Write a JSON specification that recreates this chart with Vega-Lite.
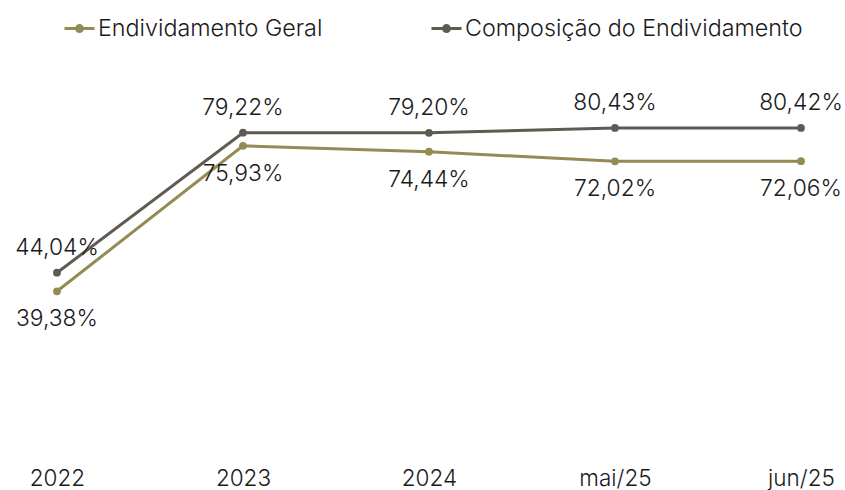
{
  "$schema": "https://vega.github.io/schema/vega-lite/v6.json",
  "width": 845,
  "height": 398,
  "autosize": {"type": "none"},
  "padding": {"left": 0, "top": 50, "right": 0, "bottom": 42},
  "background": "white",
  "config": {
    "view": {"stroke": null},
    "font": "Inter",
    "text": {"font": "Inter"}
  },
  "data": {
    "values": [
      {"periodo": "2022", "serie": "Endividamento Geral", "valor": 39.38, "label": "39,38%"},
      {"periodo": "2023", "serie": "Endividamento Geral", "valor": 75.93, "label": "75,93%"},
      {"periodo": "2024", "serie": "Endividamento Geral", "valor": 74.44, "label": "74,44%"},
      {"periodo": "mai/25", "serie": "Endividamento Geral", "valor": 72.02, "label": "72,02%"},
      {"periodo": "jun/25", "serie": "Endividamento Geral", "valor": 72.06, "label": "72,06%"},
      {"periodo": "2022", "serie": "Composição do Endividamento", "valor": 44.04, "label": "44,04%"},
      {"periodo": "2023", "serie": "Composição do Endividamento", "valor": 79.22, "label": "79,22%"},
      {"periodo": "2024", "serie": "Composição do Endividamento", "valor": 79.20, "label": "79,20%"},
      {"periodo": "mai/25", "serie": "Composição do Endividamento", "valor": 80.43, "label": "80,43%"},
      {"periodo": "jun/25", "serie": "Composição do Endividamento", "valor": 80.42, "label": "80,42%"}
    ]
  },
  "encoding": {
    "x": {
      "field": "periodo",
      "type": "ordinal",
      "sort": ["2022", "2023", "2024", "mai/25", "jun/25"],
      "scale": {"type": "point", "padding": 0.2715, "align": 0.564},
      "axis": {
        "title": null,
        "domain": false,
        "ticks": false,
        "grid": false,
        "labelAngle": 0,
        "labelFont": "Inter",
        "labelFontSize": 22.5,
        "labelColor": "#1a1a1a",
        "labelPadding": 19,
        "labelFontWeight": 300
      }
    },
    "y": {
      "field": "valor",
      "type": "quantitative",
      "scale": {"domain": [0, 100], "nice": false},
      "axis": null
    },
    "color": {
      "field": "serie",
      "type": "nominal",
      "scale": {
        "domain": ["Endividamento Geral", "Composição do Endividamento"],
        "range": ["#948a54", "#5f5b52"]
      },
      "legend": {
        "title": null,
        "orient": "none",
        "legendX": 63,
        "legendY": -38,
        "direction": "horizontal",
        "labelFont": "Inter",
        "labelFontSize": 23.3,
        "labelFontWeight": 300,
        "labelLimit": 500,
        "labelColor": "#1a1a1a",
        "labelOffset": 2,
        "columnPadding": 102,
        "symbolType": "M-1,0H1M0.2,0A0.2,0.2 0 1 1 -0.2,0A0.2,0.2 0 1 1 0.2,0",
        "symbolSize": 900,
        "symbolStrokeWidth": 3
      }
    }
  },
  "layer": [
    {
      "mark": {"type": "line", "strokeWidth": 3},
      "encoding": {"detail": {"field": "serie"}}
    },
    {
      "mark": {"type": "circle", "size": 60, "opacity": 1},
      "encoding": {"detail": {"field": "serie"}}
    },
    {
      "transform": [{"filter": "datum.serie == 'Composição do Endividamento'"}],
      "mark": {"type": "text", "dy": -25, "fontSize": 22.8, "fontWeight": 300, "font": "Inter", "color": "#1a1a1a"},
      "encoding": {"text": {"field": "label"}, "color": {"value": "#1a1a1a"}}
    },
    {
      "transform": [{"filter": "datum.serie == 'Endividamento Geral'"}],
      "mark": {"type": "text", "dy": 28, "fontSize": 22.8, "fontWeight": 300, "font": "Inter", "color": "#1a1a1a"},
      "encoding": {"text": {"field": "label"}, "color": {"value": "#1a1a1a"}}
    }
  ]
}
